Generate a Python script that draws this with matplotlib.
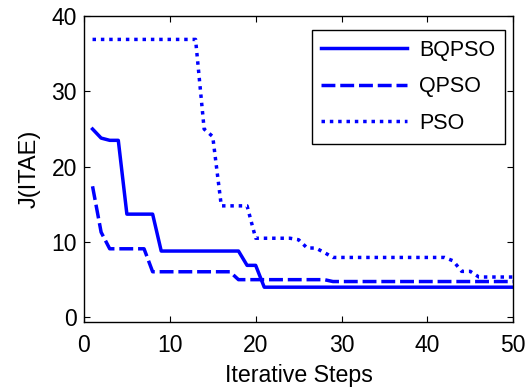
import numpy as np
import matplotlib
matplotlib.use('Agg')
import matplotlib.pyplot as plt

plt.rcParams['font.family'] = ['Liberation Sans', 'DejaVu Sans']

steps = np.arange(1, 51)

# BQPSO
bqpso = [25.0, 23.8, 23.5, 23.5] + [13.7] * 4 + [8.8] * 10 + [6.9] * 2 + [4.0] * 30
# QPSO
qpso = [17.4, 11.3, 9.1, 9.1, 9.1, 9.1, 9.1] + [6.05] * 10 + [5.0] * 11 + [4.75] * 22
# PSO
pso = ([36.9] * 13 + [25.0, 24.0] + [14.8] * 4 + [10.5] * 5 + [10.3, 9.2, 9.2, 8.6]
       + [7.95] * 14 + [7.5, 6.1, 6.1] + [5.35] * 5)

fig = plt.figure(figsize=(5.28, 3.92), dpi=100)
ax = fig.add_axes([0.159, 0.179, 0.813, 0.780])

lw = 2.5
ax.plot(steps, bqpso, '-', color='blue', lw=lw, label='BQPSO')
ax.plot(steps, qpso, '--', color='blue', lw=lw, label='QPSO', dashes=(4.0, 1.4))
ax.plot(steps, pso, ':', color='blue', lw=lw, label='PSO', dashes=(1, 1.4))

ax.set_xlim(0, 50)
ax.set_ylim(-0.6, 40)
ax.set_xticks([0, 10, 20, 30, 40, 50])
ax.set_yticks([0, 10, 20, 30, 40])
ax.tick_params(direction='in', top=True, right=True, labelsize=16.5, length=4)
ax.tick_params(axis='x', pad=9)
ax.tick_params(axis='y', pad=5)
for s in ax.spines.values():
    s.set_linewidth(1.0)

ax.set_xlabel('Iterative Steps', fontsize=16.7, labelpad=5)
ax.set_ylabel('J(ITAE)', fontsize=17, labelpad=8)

leg = ax.legend(loc='upper right', bbox_to_anchor=(0.981, 0.954), borderaxespad=0,
                fontsize=15.5, handlelength=4.0, fancybox=False,
                edgecolor='black', framealpha=1,
                labelspacing=0.72, handletextpad=0.55, borderpad=0.45)
leg.get_frame().set_linewidth(1.0)

fig.savefig('out.png', dpi=100)
